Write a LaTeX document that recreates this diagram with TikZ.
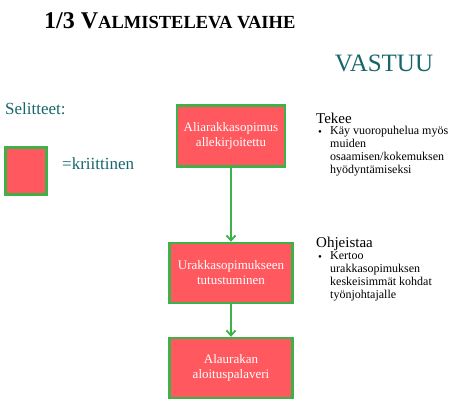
\documentclass[tikz,border=0pt]{standalone}
\usepackage{fontspec}
\setmainfont{Liberation Serif}
\usetikzlibrary{arrows.meta}

\definecolor{kriitpun}{RGB}{255,88,94}
\definecolor{kriitvihr}{RGB}{62,178,72}
\definecolor{vastteal}{RGB}{24,102,108}

\tikzset{
  krit/.style={draw=kriitvihr, line width=2.4pt, fill=kriitpun, text=white,
    align=center, font=\fontsize{13}{15}\selectfont, inner sep=0pt},
  kulku/.style={draw=kriitvihr, line width=1.8pt, -{Straight Barb[length=5pt,width=9pt]}},
  otsikko/.style={font=\fontsize{15}{17}\selectfont, anchor=west, inner sep=0pt},
  selite/.style={font=\fontsize{12}{13}\selectfont, align=left, anchor=north west,
    inner sep=0pt}
}

\begin{document}
\begin{tikzpicture}[x=1pt,y=-1pt]
			\useasboundingbox (0,0) rectangle (464,406);
			% Title
			\node[anchor=west, inner sep=0pt, font=\bfseries] (otsikko) at (44,21)
			  {\fontsize{24}{26}\selectfont 1/3 V\fontsize{18.5}{20}\selectfont ALMISTELEVA V\fontsize{18.5}{20}\selectfont AIHE};
			\node[text=vastteal, font=\fontsize{25}{28}\selectfont, inner sep=0pt] (vastuu) at (384,63) {VASTUU};
			
			% Legend
			\node[text=vastteal, font=\fontsize{17}{20}\selectfont, anchor=west, inner sep=0pt] (selitteet) at (5,109) {Selitteet:};
			\node[krit, minimum width=41pt, minimum height=47pt] (legbox) at (26,171) {};
			\node[text=vastteal, font=\fontsize{17}{19}\selectfont, anchor=west, inner sep=0pt] (kriittinen) at (62,164) {=kriittinen};
			
			% Phases
			\node[krit, minimum width=108pt, minimum height=61pt] (alisopimus) at (231,136) {Aliarakkasopimus\\allekirjoitettu};
			\node[krit, minimum width=123pt, minimum height=60pt] (tutustuminen) at (231,273) {Urakkasopimukseen\\tutustuminen};
			\node[krit, minimum width=123pt, minimum height=60pt] (palaveri) at (231,368) {Alaurakan\\aloituspalaveri};
			
			\draw[kulku] (alisopimus) -- (tutustuminen);
			\draw[kulku] (tutustuminen) -- (palaveri);
			
			% Responsibilities
			\node[otsikko] (tekee) at (316,118) {Tekee};
			\node[anchor=west, inner sep=0pt, font=\fontsize{11}{13}\selectfont] (bul1) at (318,133) {•};
			\node[selite] (tekeeteksti) at (330,126) {Käy vuoropuhelua myös\\muiden\\osaamisen/kokemuksen\\hyödyntämiseksi};
			
			\node[otsikko] (ohjeistaa) at (316,244) {Ohjeistaa};
			\node[anchor=west, inner sep=0pt, font=\fontsize{11}{13}\selectfont] (bul2) at (318,258) {•};
			\node[selite] (ohjeteksti) at (330,251) {Kertoo\\urakkasopimuksen\\keskeisimmät kohdat\\työnjohtajalle};
		\end{tikzpicture}
\end{document}
